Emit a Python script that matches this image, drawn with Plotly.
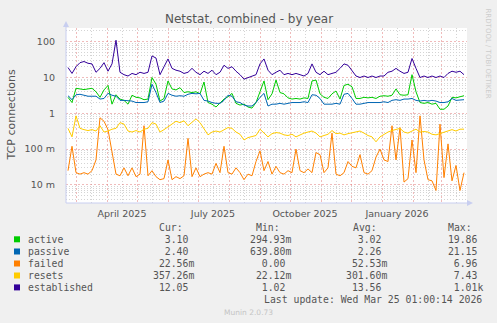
import plotly.graph_objects as go
import pandas as pd

# ---------------- data (sampled every 4 days) ----------------
START = "2025-02-21"
STEP = "4D"

active = [2.8, 2.0, 5.0, 4.8, 4.6, 4.8, 5.0, 4.0, 2.8, 4.5, 6.0, 1.8, 3.3, 2.5, 2.3, 1.8, 3.2, 2.8, 2.7, 2.4,
          2.5, 10, 6.5, 2.2, 2.6, 8, 4.8, 4.5, 5.2, 3.8, 4.0, 3.8, 4.0, 3.5, 7.5, 2.0, 1.8, 1.5, 1.9, 2.5,
          2.9, 3.6, 1.9, 1.7, 1.8, 1.5, 1.4, 2.0, 4.0, 8, 2.4, 3.5, 8.5, 3.8, 3.5, 2.7, 2.5, 2.6, 2.5, 2.7,
          2.6, 8, 8.5, 3.5, 2.8, 2.6, 3.5, 4.2, 2.5, 6.0, 6.5, 5.5, 2.6, 2.6, 2.8, 2.7, 2.8, 2.6, 3.0, 3.1,
          3.0, 3.2, 4.8, 3.3, 3.2, 3.3, 12, 4, 2.0, 1.9, 2.0, 1.8, 1.9, 1.3, 1.3, 1.6, 2.8, 2.7, 2.9, 3.1]

passive = [3.1, 2.4, 3.3, 3.4, 3.2, 3.0, 3.0, 3.0, 2.5, 2.6, 3.6, 3.2, 3.0, 2.3, 2.3, 2.2, 2.2, 2.0, 2.0, 2.0,
           2.1, 6.5, 3.8, 2.0, 2.2, 3.6, 3.2, 3.0, 3.1, 3.0, 3.4, 3.6, 3.5, 3.6, 2.3, 2.2, 2.0, 1.9, 1.9, 2.3,
           3.2, 3.0, 2.1, 2.0, 1.7, 1.6, 1.6, 2.0, 2.8, 3.6, 1.6, 1.8, 1.8, 1.9, 1.8, 1.9, 2.0, 2.0, 2.0, 2.1,
           2.0, 3.3, 3.2, 2.6, 1.8, 1.8, 1.8, 1.9, 1.8, 3.4, 3.6, 2.6, 1.8, 1.8, 1.9, 2.0, 2.0, 2.0, 2.0, 2.1,
           2.0, 2.3, 2.4, 2.3, 2.5, 2.5, 2.6, 2.3, 2.2, 2.3, 2.2, 2.3, 2.2, 2.0, 2.0, 2.1, 2.6, 2.3, 2.3, 2.4]

failed = [0.025, 0.12, 0.022, 0.02, 0.022, 0.02, 0.025, 0.05, 0.75, 0.6, 0.35, 0.08, 0.02, 0.018, 0.03, 0.018,
          0.03, 0.017, 0.02, 0.45, 0.018, 0.025, 0.017, 0.014, 0.015, 0.05, 0.014, 0.017, 0.015, 0.018, 0.2, 0.017,
          0.03, 0.017, 0.02, 0.022, 0.02, 0.04, 0.022, 0.12, 0.022, 0.02, 0.03, 0.022, 0.014, 0.02, 0.018, 0.045,
          0.09, 0.025, 0.045, 0.02, 0.033, 0.022, 0.02, 0.025, 0.022, 0.1, 0.025, 0.022, 0.028, 0.022, 0.08, 0.07,
          0.022, 0.03, 0.28, 0.02, 0.018, 0.022, 0.045, 0.033, 0.03, 0.07, 0.022, 0.02, 0.025, 0.06, 0.1, 0.05,
          0.045, 0.45, 0.05, 0.4, 0.012, 0.015, 0.18, 0.022, 0.85, 0.05, 0.014, 0.013, 0.007, 0.5, 0.016, 0.14,
          0.013, 0.035, 0.007, 0.022]

resets = [0.38, 0.22, 0.85, 0.38, 0.35, 0.33, 0.35, 0.32, 0.45, 0.30, 0.32, 0.36, 0.38, 0.55, 0.50, 0.32, 0.30,
          0.33, 0.30, 0.36, 0.38, 0.55, 0.50, 0.30, 0.35, 0.42, 0.50, 0.60, 0.55, 0.62, 0.45, 0.58, 0.70, 0.55,
          0.38, 0.25, 0.30, 0.32, 0.30, 0.35, 0.40, 0.38, 0.30, 0.26, 0.18, 0.21, 0.22, 0.24, 0.36, 0.28, 0.22,
          0.27, 0.29, 0.28, 0.25, 0.24, 0.26, 0.22, 0.25, 0.28, 0.30, 0.32, 0.28, 0.22, 0.24, 0.26, 0.33, 0.27,
          0.28, 0.25, 0.27, 0.29, 0.30, 0.32, 0.28, 0.24, 0.22, 0.16, 0.22, 0.26, 0.30, 0.33, 0.36, 0.38, 0.30,
          0.28, 0.32, 0.36, 0.30, 0.31, 0.30, 0.26, 0.25, 0.27, 0.30, 0.33, 0.35, 0.32, 0.36, 0.36]

established = [19, 13, 20, 26, 28, 25, 24, 14, 18, 26, 15, 24, 110, 14, 12, 11, 13, 12, 14, 13,
               14, 40, 35, 12, 20, 33, 18, 16, 15, 13, 14, 18, 14, 12, 15, 13, 16, 12, 14, 22,
               18, 20, 15, 12, 9, 10, 11, 12, 24, 33, 16, 12, 14, 16, 12, 13, 12, 13, 12, 11,
               13, 24, 14, 12, 15, 12, 13, 14, 18, 24, 22, 15, 11, 10, 11, 10, 11, 10, 11, 11,
               14, 15, 18, 15, 13, 14, 34, 18, 10, 11, 10, 11, 10, 11, 10, 13, 15, 14, 15, 12]

series_names = ["active", "passive", "failed", "resets", "established"]
series_colors = ["#00CC00", "#0066B3", "#FF8000", "#FFCC00", "#330099"]
cur_vals = ["  3.10 ", "  2.40 ", " 22.56m", "357.26m", " 12.05 "]
min_vals = ["294.93m", "639.80m", "  0.00 ", " 22.12m", "  1.02 "]
avg_vals = ["  3.02 ", "  2.26 ", " 52.53m", "301.60m", " 13.56 "]
max_vals = [" 19.86 ", " 21.15 ", "  6.96 ", "  7.43 ", "  1.01k"]

y_tickvals = [0.01, 0.1, 1, 10, 100]
y_ticktext = ["10 m", "100 m", "1", "10", "100"]
x_labels = {"2025-04-16": "April 2025", "2025-07-16": "July 2025",
            "2025-10-16": "October 2025", "2026-01-16": "January 2026"}

# ---------------- layout constants ----------------
W, H = 497, 323
PL, PR, PT, PB = 66, 467, 28, 203
TXT = "#555555"

def px(x):
    return (x - PL) / (PR - PL)

def py(y):
    return (PB - y) / (PB - PT)

dates = pd.date_range(START, periods=len(active), freq=STEP)
series = [active, passive, failed, resets, established]

fig = go.Figure()
for name, col, vals in zip(series_names, series_colors, series):
    fig.add_trace(go.Scatter(x=dates, y=vals, mode="lines", name=name,
                             line=dict(color=col, width=1), showlegend=False))

# grid positions
month_starts = pd.date_range("2025-03-01", "2026-03-01", freq="MS")
mid_months = [d + pd.Timedelta(days=15) for d in pd.date_range("2025-03-01", "2026-03-01", freq="MS")]
x_ticktext = [x_labels.get(d.strftime("%Y-%m-%d"), "") for d in mid_months]
minor_y = [m * 10 ** k for k in range(-3, 3) for m in range(2, 10) if 0.003 < m * 10 ** k < 240]

GRID_MIN = "#D4D4D4"
GRID_MAJ = "rgba(225,120,120,0.5)"

fig.update_layout(
    width=W, height=H,
    margin=dict(l=PL, r=W - PR, t=PT, b=H - PB, pad=0),
    paper_bgcolor="#F0F0F0", plot_bgcolor="#FFFFFF",
    font=dict(family="DejaVu Sans", color=TXT, size=9.5),
    xaxis=dict(
        type="date", range=["2025-02-19", "2026-03-27"],
        tickmode="array", tickvals=mid_months, ticktext=x_ticktext,
        showgrid=True, gridcolor=GRID_MIN, griddash="1px,2px", gridwidth=1,
        ticks="", ticklabelstandoff=3, showline=False, zeroline=False,
        tickfont=dict(size=9.5, color=TXT),
        minor=dict(tickmode="array", tickvals=month_starts, showgrid=True,
                   gridcolor=GRID_MAJ, griddash="2px,2px", gridwidth=1, ticks=""),
    ),
    yaxis=dict(
        type="log", range=[-2.505, 2.383],
        tickmode="array", tickvals=y_tickvals, ticktext=y_ticktext,
        showgrid=True, gridcolor=GRID_MAJ, griddash="2px,2px", gridwidth=1,
        ticks="", ticklabelstandoff=10, showline=False, zeroline=False,
        tickfont=dict(size=9.5, color=TXT),
        minor=dict(tickmode="array", tickvals=minor_y, showgrid=True,
                   gridcolor=GRID_MIN, griddash="1px,2px", gridwidth=1, ticks=""),
    ),
)

shapes = []
AX = "#C8CEF0"
# axes with arrows
shapes.append(dict(type="line", xref="paper", yref="paper", x0=px(66), x1=px(66), y0=py(203), y1=py(24),
                   line=dict(color=AX, width=1)))
shapes.append(dict(type="path", xref="paper", yref="paper",
                   path=f"M {px(63)} {py(27)} L {px(69)} {py(27)} L {px(66)} {py(21)} Z",
                   fillcolor=AX, line=dict(color=AX, width=0)))
shapes.append(dict(type="line", xref="paper", yref="paper", x0=px(66), x1=px(470), y0=py(203), y1=py(203),
                   line=dict(color=AX, width=1)))
shapes.append(dict(type="path", xref="paper", yref="paper",
                   path=f"M {px(467)} {py(200)} L {px(467)} {py(206)} L {px(473)} {py(203)} Z",
                   fillcolor=AX, line=dict(color=AX, width=0)))

annotations = []

def text(x, y, s, size=9.8, family="DejaVu Sans Mono", color=TXT, xanchor="left", angle=0):
    annotations.append(dict(xref="paper", yref="paper", x=px(x), y=py(y), text=s, showarrow=False,
                            xanchor=xanchor, yanchor="middle", borderpad=0, textangle=angle,
                            font=dict(family=family, size=size, color=color)))

nb = lambda s: s.replace(" ", "\u00a0")

# title and axis title
text(248.5, 19.3, "Netstat, combined - by year", size=12, family="DejaVu Sans", xanchor="center")
text(10.5, 115, "TCP connections", size=11, family="DejaVu Sans", xanchor="center", angle=-90)
text(488, 53.5, "RRDTOOL / TOBI OETIKER", size=7, family="DejaVu Sans", color="#CCCCCC",
     xanchor="center", angle=90)

# legend
hdr_y = 227.3
text(158, hdr_y, "Cur:")
text(255.3, hdr_y, "Min:")
text(351.7, hdr_y, "Avg:")
text(446.7, hdr_y, "Max:")
row_y = [239.3, 251.5, 263.5, 275.5, 287.4]
for i, name in enumerate(series_names):
    yy = row_y[i]
    shapes.append(dict(type="rect", xref="paper", yref="paper", x0=px(14), x1=px(20),
                       y0=py(yy + 3), y1=py(yy - 3), fillcolor=series_colors[i], line=dict(width=0)))
    text(26.7, yy, name)
    text(152, yy, nb(cur_vals[i]))
    text(249.3, yy, nb(min_vals[i]))
    text(345.3, yy, nb(avg_vals[i]))
    text(441.3, yy, nb(max_vals[i]))

text(482.5, 299.7, "Last update: Wed Mar 25 01:00:14 2026", xanchor="right")
text(248.3, 312.3, "Munin 2.0.73", size=7.5, family="DejaVu Sans", color="#C4C4C4", xanchor="center")

fig.update_layout(shapes=shapes, annotations=annotations)
fig.write_html("out.html")
